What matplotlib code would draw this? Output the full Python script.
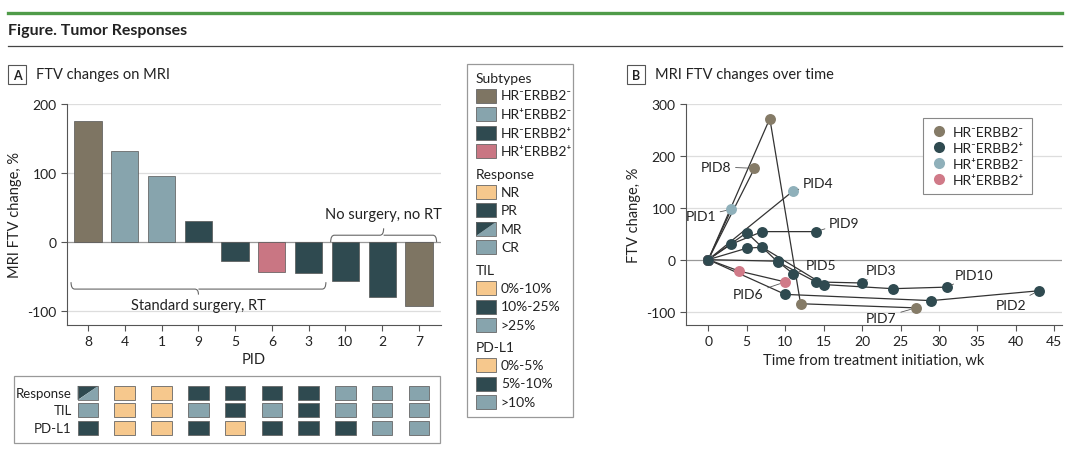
import matplotlib
matplotlib.use('Agg')
import matplotlib.pyplot as plt
from matplotlib.patches import Rectangle, Polygon, PathPatch
from matplotlib.lines import Line2D
from matplotlib.path import Path

plt.rcParams['font.family'] = ['Lato', 'DejaVu Sans']

BROWN = '#7e7563'
LIGHT = '#87a4ad'
DARK = '#2f4a50'
PINK = '#c97683'
ORANGE = '#f6c88d'
TEXT = '#222222'

# ---- data: panel A ----
pids = ['8', '4', '1', '9', '5', '6', '3', '10', '2', '7']
ftv_change = [176, 132, 96, 30, -28, -43, -45, -56, -79, -93]
subtype = ['HR-ERBB2-', 'HR+ERBB2-', 'HR+ERBB2-', 'HR-ERBB2+', 'HR-ERBB2+',
           'HR+ERBB2+', 'HR-ERBB2+', 'HR-ERBB2+', 'HR-ERBB2+', 'HR-ERBB2-']
response = ['MR', 'NR', 'NR', 'PR', 'PR', 'PR', 'PR', 'CR', 'CR', 'CR']
til = ['>25%', '0%-10%', '0%-10%', '>25%', '10%-25%', '>25%', '10%-25%', '>25%', '>25%', '>25%']
pdl1 = ['5%-10%', '0%-5%', '0%-5%', '5%-10%', '0%-5%', '5%-10%', '5%-10%', '5%-10%', '>10%', '>10%']

subtype_labels = ['HR⁻ERBB2⁻', 'HR⁺ERBB2⁻', 'HR⁻ERBB2⁺', 'HR⁺ERBB2⁺']
subtype_keys = ['HR-ERBB2-', 'HR+ERBB2-', 'HR-ERBB2+', 'HR+ERBB2+']
subtype_colors = {'HR-ERBB2-': BROWN, 'HR+ERBB2-': LIGHT, 'HR-ERBB2+': DARK, 'HR+ERBB2+': PINK}
response_levels = ['NR', 'PR', 'MR', 'CR']
til_levels = ['0%-10%', '10%-25%', '>25%']
pdl1_levels = ['0%-5%', '5%-10%', '>10%']
level_colors = [ORANGE, DARK, LIGHT]

# ---- data: panel B (weeks, % change) ----
pid8_wk, pid8_chg = [0, 6], [0, 176]
pid7_wk, pid7_chg = [0, 8, 12, 27], [0, 272, -85, -93]
pid1_wk, pid1_chg = [0, 3], [0, 97]
pid4_wk, pid4_chg = [0, 11], [0, 132]
pid9_wk, pid9_chg = [0, 3, 7, 14], [0, 30, 54, 54]
pid3_wk, pid3_chg = [0, 5, 9, 14, 20], [0, 52, -4, -43, -45]
pid10_wk, pid10_chg = [0, 5, 7, 15, 24, 31], [0, 22, 24, -48, -56, -53]
pid5_wk, pid5_chg = [0, 9, 11], [0, -3, -27]
pid6_wk, pid6_chg = [0, 4, 10], [0, -22, -43]
pid2_wk, pid2_chg = [0, 10, 29, 43], [0, -67, -79, -60]

series = [
    ('PID8', pid8_wk, pid8_chg, 'HR-ERBB2-'),
    ('PID7', pid7_wk, pid7_chg, 'HR-ERBB2-'),
    ('PID1', pid1_wk, pid1_chg, 'HR+ERBB2-'),
    ('PID4', pid4_wk, pid4_chg, 'HR+ERBB2-'),
    ('PID9', pid9_wk, pid9_chg, 'HR-ERBB2+'),
    ('PID3', pid3_wk, pid3_chg, 'HR-ERBB2+'),
    ('PID10', pid10_wk, pid10_chg, 'HR-ERBB2+'),
    ('PID5', pid5_wk, pid5_chg, 'HR-ERBB2+'),
    ('PID6', pid6_wk, pid6_chg, 'HR+ERBB2+'),
    ('PID2', pid2_wk, pid2_chg, 'HR-ERBB2+'),
]
dot_colors = {'HR-ERBB2-': '#857b67', 'HR+ERBB2-': '#8fb0ba', 'HR-ERBB2+': DARK, 'HR+ERBB2+': '#d07a88'}
# label text anchor (x, y, ha)
label_pos = {
    'PID8': (3.0, 179, 'right'), 'PID1': (1.0, 84, 'right'), 'PID4': (12.3, 148, 'left'),
    'PID9': (15.7, 71, 'left'), 'PID5': (12.7, -11, 'left'), 'PID3': (20.5, -20, 'left'),
    'PID10': (32.1, -29, 'left'), 'PID2': (41.4, -87, 'right'), 'PID7': (24.5, -112, 'right'),
    'PID6': (7.2, -67, 'right'),
}

fig = plt.figure(figsize=(10.8, 4.64), dpi=100)
W, H = 1080, 464


def fx(px):
    return px / W


def fy(py):
    return 1 - py / H


# header
fig.add_artist(Line2D([fx(8), fx(1062)], [fy(14), fy(14)], color='#4f9b49', lw=2.4))
fig.text(fx(8), fy(31), 'Figure. Tumor Responses', fontsize=11.5, fontweight='bold',
         va='center', ha='left', color=TEXT)
fig.add_artist(Line2D([fx(8), fx(1062)], [fy(46.5), fy(46.5)], color='#444444', lw=0.9))


def panel_label(x, letter, title):
    fig.add_artist(Rectangle((fx(x), fy(85)), fx(18), 19 / H, fill=False,
                             edgecolor='#555555', lw=0.8, transform=fig.transFigure))
    fig.text(fx(x + 9), fy(75.5), letter, fontsize=9, fontweight='bold',
             ha='center', va='center', color=TEXT)
    fig.text(fx(x + 28), fy(75.5), title, fontsize=10.5, ha='left', va='center', color=TEXT)


panel_label(8, 'A', 'FTV changes on MRI')
panel_label(627, 'B', 'MRI FTV changes over time')


def style_axes(ax):
    for s in ['top', 'right']:
        ax.spines[s].set_visible(False)
    for s in ['left', 'bottom']:
        ax.spines[s].set_color('#555555')
        ax.spines[s].set_linewidth(0.8)
    ax.tick_params(colors='#555555', labelcolor=TEXT, labelsize=10, width=0.8, length=4)


# ---- panel A bars ----
axA = fig.add_axes([fx(67), fy(326), fx(441 - 67), (326 - 105) / H])
xs = list(range(len(pids)))
axA.bar(xs, ftv_change, width=0.74, color=[subtype_colors[s] for s in subtype],
        edgecolor='#555555', linewidth=0.5, zorder=3)
axA.set_xlim(-0.57, 9.6)
axA.set_ylim(-120, 200)
axA.set_yticks([-100, 0, 100, 200])
axA.set_yticklabels(['-100', '0', '100', '200'])
axA.set_xticks(xs)
axA.set_xticklabels(pids)
for v in [-100, 100, 200]:
    axA.axhline(v, color='#dddddd', lw=0.9, zorder=1)
axA.axhline(0, color='#999999', lw=0.9, zorder=2)
style_axes(axA)
axA.set_xlabel('PID', fontsize=10.5, color=TEXT, labelpad=3)
axA.set_ylabel('MRI FTV change, %', fontsize=10.5, color=TEXT, labelpad=4)


def brace(ax, x0, x1, y, d, tip):
    # horizontal brace; d = direction of the end hooks, tip = centre tick direction
    xm = (x0 + x1) / 2
    r = 0.1
    verts = [(x0, y + d), (x0, y), (x0 + r, y), (xm - r, y), (xm, y), (xm, y + tip),
             (xm, y), (xm + r, y), (x1 - r, y), (x1, y), (x1, y + d)]
    codes = [Path.MOVETO, Path.CURVE3, Path.CURVE3, Path.LINETO, Path.CURVE3, Path.CURVE3,
             Path.MOVETO, Path.CURVE3, Path.LINETO, Path.CURVE3, Path.CURVE3]
    ax.add_patch(PathPatch(Path(verts, codes), fill=False, edgecolor='#666666', lw=0.8,
                           zorder=4, clip_on=False))


brace(axA, -0.46, 6.47, -68, 10, -8)
axA.text(3.0, -91, 'Standard surgery, RT', fontsize=10.5, ha='center', va='center', color=TEXT)
brace(axA, 6.6, 9.48, 10, -10, 10)
axA.text(8.04, 41, 'No surgery, no RT', fontsize=10.5, ha='center', va='center', color=TEXT)

# ---- heat strip ----
axH = fig.add_axes([fx(67), fy(444), fx(441 - 67), (444 - 377) / H])
axH.set_xlim(-0.57, 9.6)
axH.set_ylim(2.86, -0.97)
axH.axis('off')
fig.add_artist(Rectangle((fx(14), fy(444)), fx(440 - 14), (444 - 377) / H, fill=False,
                         edgecolor='#999999', lw=0.9, transform=fig.transFigure))
cw, ch = 0.56, 0.8
rows = [('Response', response, response_levels, [ORANGE, DARK, None, LIGHT]),
        ('TIL', til, til_levels, level_colors),
        ('PD-L1', pdl1, pdl1_levels, level_colors)]
for r, (name, vals, levels, cols) in enumerate(rows):
    axH.text(0.013, r, name, transform=axH.get_yaxis_transform(), ha='right', va='center',
             fontsize=9.5, color=TEXT)
    for i, v in enumerate(vals):
        x0, y0 = i - cw / 2, r - ch / 2
        c = cols[levels.index(v)]
        if c is None:
            axH.add_patch(Polygon([(x0, y0), (x0 + cw, y0), (x0, y0 + ch)], closed=True,
                                  facecolor=DARK, edgecolor='none'))
            axH.add_patch(Polygon([(x0 + cw, y0), (x0 + cw, y0 + ch), (x0, y0 + ch)], closed=True,
                                  facecolor=LIGHT, edgecolor='none'))
            axH.add_patch(Rectangle((x0, y0), cw, ch, fill=False, edgecolor='#666666', lw=0.6))
        else:
            axH.add_patch(Rectangle((x0, y0), cw, ch, facecolor=c, edgecolor='#666666', lw=0.6))

# ---- legend box for panel A ----
fig.add_artist(Rectangle((fx(467), fy(418)), fx(573 - 467), (418 - 65) / H, fill=False,
                         edgecolor='#999999', lw=0.9, transform=fig.transFigure))
axL = fig.add_axes([fx(467), fy(418), fx(573 - 467), (418 - 65) / H])
axL.set_xlim(467, 573)
axL.set_ylim(418, 65)
axL.axis('off')
sw, sh = 20, 14


def swatch(y, color, label, diag=False):
    if diag:
        axL.add_patch(Polygon([(476, y + sh / 2), (496, y - sh / 2), (496, y + sh / 2)],
                              facecolor=LIGHT, edgecolor='none'))
        axL.add_patch(Polygon([(476, y + sh / 2), (476, y - sh / 2), (496, y - sh / 2)],
                              facecolor=DARK, edgecolor='none'))
        axL.add_patch(Rectangle((476, y - sh / 2), sw, sh, fill=False, edgecolor='#666666', lw=0.6))
    else:
        axL.add_patch(Rectangle((476, y - sh / 2), sw, sh, facecolor=color, edgecolor='#666666', lw=0.6))
    axL.text(501, y, label, fontsize=10, va='center', ha='left', color=TEXT)


axL.text(476, 79, 'Subtypes', fontsize=10, va='center', ha='left', color=TEXT)
for y, k, lab in zip([96.5, 115, 134, 152], subtype_keys, subtype_labels):
    swatch(y, subtype_colors[k], lab)
axL.text(476, 175, 'Response', fontsize=10, va='center', ha='left', color=TEXT)
for y, lab, c in zip([193, 211, 230, 248], response_levels, [ORANGE, DARK, None, LIGHT]):
    swatch(y, c, lab, diag=(c is None))
axL.text(476, 271, 'TIL', fontsize=10, va='center', ha='left', color=TEXT)
for y, lab, c in zip([289, 307.5, 326], til_levels, level_colors):
    swatch(y, c, lab)
axL.text(476, 348, 'PD-L1', fontsize=10, va='center', ha='left', color=TEXT)
for y, lab, c in zip([366, 384.5, 403], pdl1_levels, level_colors):
    swatch(y, c, lab)

# ---- panel B ----
axB = fig.add_axes([fx(686), fy(326), fx(1062 - 686), (326 - 105) / H])
for v in [-100, 100, 200, 300]:
    axB.axhline(v, color='#dddddd', lw=0.9, zorder=1)
axB.axhline(0, color='#999999', lw=0.9, zorder=1)
for name, wk, chg, st in series:
    axB.plot(wk, chg, color='#333333', lw=0.9, zorder=2)
for name, wk, chg, st in series:
    axB.scatter(wk, chg, s=62, color=dot_colors[st], zorder=3, linewidths=0)
    tx, ty, ha = label_pos[name]
    axB.annotate(name, xy=(wk[-1], chg[-1]), xytext=(tx, ty), ha=ha, va='center',
                 fontsize=10, color=TEXT,
                 arrowprops=dict(arrowstyle='-', color='#555555', lw=0.6, shrinkA=1, shrinkB=4))
axB.set_xlim(-2.9, 46)
axB.set_ylim(-126, 300)
axB.set_xticks(range(0, 46, 5))
axB.set_yticks([-100, 0, 100, 200, 300])
axB.set_yticklabels(['-100', '0', '100', '200', '300'])
style_axes(axB)
axB.set_xlabel('Time from treatment initiation, wk', fontsize=10.5, color=TEXT, labelpad=4)
axB.set_ylabel('FTV change, %', fontsize=10.5, color=TEXT, labelpad=4)
handles = [Line2D([], [], marker='o', ls='none', markersize=8, markeredgewidth=0,
                  color=dot_colors[k]) for k in ['HR-ERBB2-', 'HR-ERBB2+', 'HR+ERBB2-', 'HR+ERBB2+']]
leg = axB.legend(handles, ['HR⁻ERBB2⁻', 'HR⁻ERBB2⁺', 'HR⁺ERBB2⁻', 'HR⁺ERBB2⁺'],
                 loc='upper right', bbox_to_anchor=(0.92, 0.937), borderaxespad=0,
                 fancybox=False, edgecolor='#888888', fontsize=10, handletextpad=0.4,
                 handlelength=1.2, labelspacing=0.3, borderpad=0.55, framealpha=1)
leg.get_frame().set_linewidth(0.8)
for t in leg.get_texts():
    t.set_color(TEXT)

fig.savefig('out.png', dpi=100)
